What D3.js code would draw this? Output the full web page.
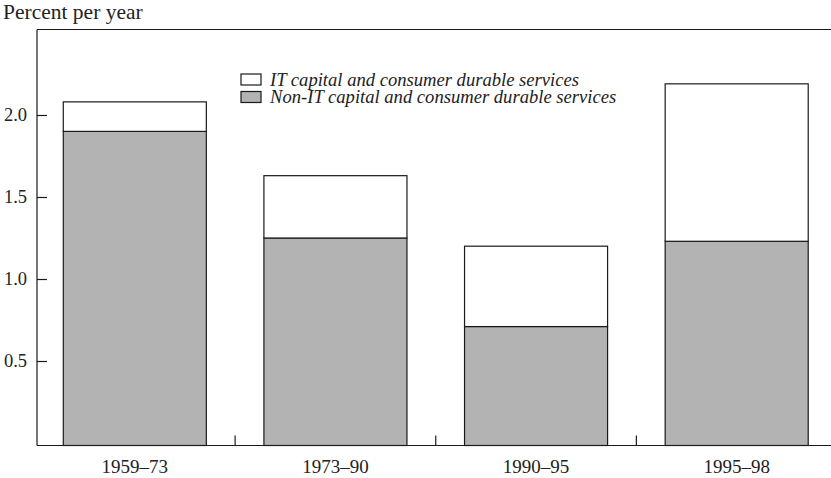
<!DOCTYPE html>
<html><head><meta charset="utf-8">
<script src="https://cdn.jsdelivr.net/npm/d3@7"></script>
<style>
html,body{margin:0;padding:0;background:#fff;}
</style></head>
<body><svg id="c" width="831" height="478"></svg>
<script>
const categories = ["1959–73", "1973–90", "1990–95", "1995–98"];
const nonIT = [1.90, 1.25, 0.71, 1.23];
const itCap = [0.18, 0.38, 0.49, 0.96];
const yTicks = [0.5, 1.0, 1.5, 2.0];
const seriesNames = ["IT capital and consumer durable services", "Non-IT capital and consumer durable services"];

(function () {
const FONT = "'Liberation Serif', 'Times New Roman', serif";
const svg = d3.select("#c");
const plotLeft = 37, plotTop = 29.5, axisY = 445.5, plotRight = 831;
const GRAY = "#b3b3b3", STROKE = "#1a1a1a", TXT = "#222";

const y = d3.scaleLinear().domain([0, 2]).range([443, 115]);
const x = d3.scaleBand().domain(categories).range([34.5, 837]).paddingInner(0.287).paddingOuter(0.1435);

svg.append("line").attr("x1", plotLeft).attr("x2", plotRight).attr("y1", plotTop).attr("y2", plotTop)
  .attr("stroke", STROKE).attr("stroke-width", 1.2);
svg.append("line").attr("x1", plotLeft).attr("x2", plotLeft).attr("y1", plotTop).attr("y2", axisY)
  .attr("stroke", STROKE).attr("stroke-width", 1.2);

const data = categories.map((c, i) => ({cat: c, base: nonIT[i], it: itCap[i]}));
const g = svg.append("g");
g.selectAll("rect.base").data(data).join("rect").attr("class", "base")
  .attr("x", d => x(d.cat)).attr("width", x.bandwidth())
  .attr("y", d => y(d.base)).attr("height", d => axisY - y(d.base))
  .attr("fill", GRAY).attr("stroke", STROKE).attr("stroke-width", 1.2);
g.selectAll("rect.it").data(data).join("rect").attr("class", "it")
  .attr("x", d => x(d.cat)).attr("width", x.bandwidth())
  .attr("y", d => y(d.base + d.it)).attr("height", d => y(d.base) - y(d.base + d.it))
  .attr("fill", "#fff").attr("stroke", STROKE).attr("stroke-width", 1.2);

const yAx = svg.append("g").attr("transform", `translate(${plotLeft},0)`)
  .call(d3.axisLeft(y).tickValues(yTicks).tickFormat(d3.format(".1f")).tickSizeInner(-10).tickSizeOuter(0).tickPadding(10));
yAx.attr("font-family", FONT).attr("font-size", 18.5);
yAx.select(".domain").remove();
yAx.selectAll(".tick line").attr("stroke", STROKE).attr("stroke-width", 1.2);
yAx.selectAll(".tick text").attr("fill", TXT);

const xAx = svg.append("g").attr("transform", `translate(0,${axisY})`)
  .call(d3.axisBottom(x).tickSize(0).tickPadding(14));
xAx.attr("font-family", FONT).attr("font-size", 19);
xAx.select(".domain").remove();
xAx.selectAll(".tick text").attr("fill", TXT);
svg.append("line").attr("x1", plotLeft).attr("x2", plotRight).attr("y1", axisY).attr("y2", axisY)
  .attr("stroke", STROKE).attr("stroke-width", 1.2);
const seps = categories.slice(1).map(c => x(c) - x.step() * x.paddingInner() / 2);
svg.selectAll("line.sep").data(seps).join("line").attr("class", "sep")
  .attr("x1", d => d).attr("x2", d => d).attr("y1", axisY).attr("y2", axisY - 10)
  .attr("stroke", STROKE).attr("stroke-width", 1.2);

svg.append("text").attr("x", 3).attr("y", 18.5).attr("font-family", FONT).attr("font-size", 21.5)
  .attr("fill", TXT).text("Percent per year");

const lg = svg.append("g").attr("transform", "translate(241,74)");
const fills = ["#fff", GRAY];
seriesNames.forEach((n, i) => {
  lg.append("rect").attr("x", 0).attr("y", i * 17.5).attr("width", 20).attr("height", 11)
    .attr("fill", fills[i]).attr("stroke", STROKE).attr("stroke-width", 1.2);
  lg.append("text").attr("x", 29).attr("y", i * 17.5 + 11.5).attr("font-family", FONT).attr("font-size", 18.6)
    .attr("font-style", "italic").attr("fill", TXT).text(n);
});
})();
</script></body></html>
